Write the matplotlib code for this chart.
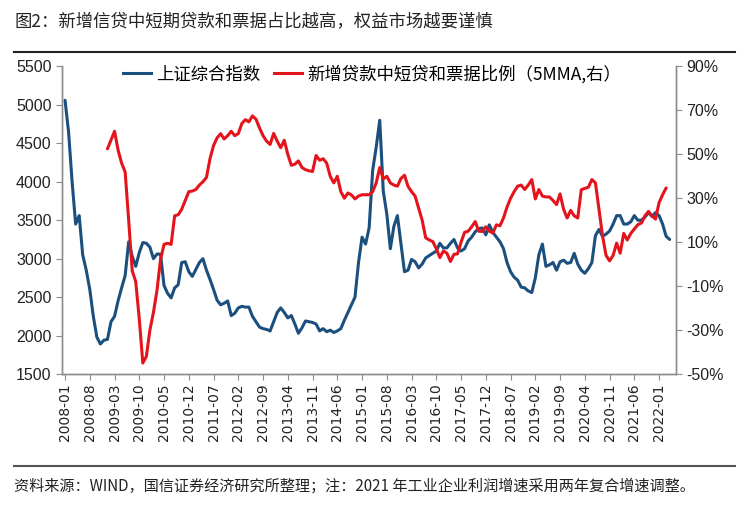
import numpy as np
import matplotlib
matplotlib.use("Agg")
import matplotlib.pyplot as plt
from matplotlib.lines import Line2D

plt.rcParams['font.family'] = ['Liberation Sans', 'Noto Sans CJK SC', 'DejaVu Sans']
plt.rcParams['axes.unicode_minus'] = False

# 上证综合指数（月度），自 2008-01 起
sh_index = [
    5060, 4650, 4000, 3450, 3560, 3050, 2850, 2600, 2250, 1980, 1890, 1940,
    1950, 2180, 2250, 2450, 2620, 2780, 3220, 3030, 2900, 3080, 3210, 3200,
    3150, 3000, 3060, 3060, 2650, 2550, 2490, 2620, 2660, 2950, 2960, 2830,
    2770, 2860, 2950, 3000, 2850, 2730, 2600, 2460, 2400, 2420, 2450, 2260,
    2290, 2360, 2380, 2370, 2370, 2250, 2180, 2110, 2090, 2080, 2060, 2180,
    2300, 2360, 2300, 2230, 2260, 2150, 2030, 2100, 2190, 2180, 2170, 2150,
    2060, 2090, 2050, 2070, 2040, 2060, 2090, 2200, 2300, 2400, 2500, 2950,
    3280, 3190, 3400, 4150, 4450, 4800, 3880, 3580, 3130, 3420, 3560, 3200,
    2830, 2850, 2990, 2960, 2880, 2930, 3010, 3040, 3070, 3100, 3200, 3140,
    3140, 3200, 3250, 3140, 3100, 3130, 3230, 3280, 3350, 3390, 3400, 3310,
    3440, 3340, 3280, 3220, 3130, 2950, 2830, 2760, 2720, 2630, 2620, 2580,
    2560, 2750, 3050, 3190, 2900, 2920, 2950, 2850, 2960, 2980, 2940, 2950,
    3070, 2930, 2850, 2810, 2870, 2950, 3300, 3380, 3290, 3320, 3360, 3450,
    3560, 3560, 3450, 3450, 3480, 3560, 3500, 3500, 3540, 3600, 3550, 3600,
    3560, 3450, 3290, 3250,
]

# 新增贷款中短贷和票据比例（5MMA，%），自 2009-01 起
loan_start = 12
loan_ratio = [
    52.5, 56.5, 60.5, 52, 46, 42, 20, -3, -8, -25, -45, -42,
    -30, -22, -12, 2, 9, 9.5, 9, 22, 22.5, 25, 29, 33,
    33.3, 34, 36, 37.5, 39.5, 48, 54, 57.5, 59.4, 57, 58.5, 60.5,
    58.5, 59.4, 64, 65.8, 64.8, 67.5, 66, 62, 58.5, 56, 54.5, 59.5,
    56, 53, 56.4, 50, 45, 45.5, 47, 44, 43, 42.5, 42.2, 49.5,
    47.3, 48, 46, 40, 37, 40, 33, 30, 32.4, 31.5, 29.7, 31,
    31.6, 31.6, 31.6, 33, 37, 44, 38.8, 40, 37, 36, 35.5, 39,
    40.5, 35.4, 33, 31, 25.5, 20, 12, 11, 10.3, 7, 3, 6,
    5, 1.2, 4.5, 4.7, 10, 14.5, 15, 17, 19.4, 15, 14.9, 17,
    15, 14.2, 17.9, 17.5, 21, 26, 30, 33, 35.5, 36, 34, 36,
    38.5, 29.7, 34, 31, 30.6, 30.6, 29, 27.1, 32, 25, 21, 24.5,
    22, 21, 33.9, 34.5, 35, 38.5, 37, 25, 13, 4, 1.5, 4,
    9.6, 5, 14, 11, 14, 16, 18, 18.7, 22, 24, 22, 20.5,
    28, 31.6, 34.7,
]

tick_labels = [
    '2008-01', '2008-08', '2009-03', '2009-10', '2010-05', '2010-12',
    '2011-07', '2012-02', '2012-09', '2013-04', '2013-11', '2014-06',
    '2015-01', '2015-08', '2016-03', '2016-10', '2017-05', '2017-12',
    '2018-07', '2019-02', '2019-09', '2020-04', '2020-11', '2021-06',
    '2022-01',
]

blue = '#1B4F7E'
red = '#E3141C'
grey = '#8C8C8C'

x_sh = np.arange(len(sh_index))
x_loan = np.arange(len(loan_ratio)) + loan_start
tick_pos = [(int(t[:4]) - 2008) * 12 + int(t[5:]) - 1 for t in tick_labels]

fig = plt.figure(figsize=(7.5, 5.05), dpi=100)
ax = fig.add_axes([0.0827, 0.2594, 0.8187, 0.609])
ax2 = ax.twinx()

ax.plot(x_sh, sh_index, color=blue, lw=2.2, solid_capstyle='round', solid_joinstyle='round')
ax2.plot(x_loan, loan_ratio, color=red, lw=2.2, solid_capstyle='round', solid_joinstyle='round')

ax.set_xlim(-0.85, 172.8)
ax.set_ylim(1500, 5500)
ax.set_yticks(range(1500, 5501, 500))
ax2.set_ylim(-50, 90)
ax2.set_yticks(range(-50, 91, 20))
ax2.set_yticklabels([f'{v}%' for v in range(-50, 91, 20)])

ax.set_xticks(tick_pos)
ax.set_xticklabels(tick_labels, rotation=90, fontsize=10, family='DejaVu Sans')

for a in (ax, ax2):
    a.spines['top'].set_visible(False)
    for s in ('left', 'right', 'bottom'):
        a.spines[s].set_color(grey)
        a.spines[s].set_linewidth(1.0)
    a.tick_params(axis='both', direction='out', length=4, color=grey,
                  labelsize=11.5, labelcolor='#222222')
ax.tick_params(axis='x', labelsize=10, pad=3)

handles = [Line2D([], [], color=blue, lw=2.2), Line2D([], [], color=red, lw=2.2)]
labels = ['上证综合指数', '新增贷款中短贷和票据比例（5MMA,右）']
ax2.legend(handles, labels, loc='center', bbox_to_anchor=(0.505, 0.975), ncol=2,
           frameon=False, handlelength=1.6, handletextpad=0.3, columnspacing=0.8,
           prop={'family': ['Noto Sans CJK SC', 'DejaVu Sans'], 'size': 12.5})

fig.text(0.0187, 0.956, '图2：新增信贷中短期贷款和票据占比越高，权益市场越要谨慎',
         fontsize=12.5, va='center', ha='left', color='#222222',
         family=['Noto Sans CJK SC', 'DejaVu Sans'])
fig.add_artist(Line2D([0.0187, 0.98], [0.897, 0.897], color='#222222', lw=1.5))
fig.add_artist(Line2D([0.0187, 0.98], [0.077, 0.077], color='#555555', lw=1.5))
fig.text(0.0187, 0.037, '资料来源：WIND，国信证券经济研究所整理；注：2021 年工业企业利润增速采用两年复合增速调整。',
         fontsize=10.9, va='center', ha='left', color='#222222',
         family=['Noto Sans CJK SC', 'DejaVu Sans'])

fig.savefig('out.png', dpi=100)
